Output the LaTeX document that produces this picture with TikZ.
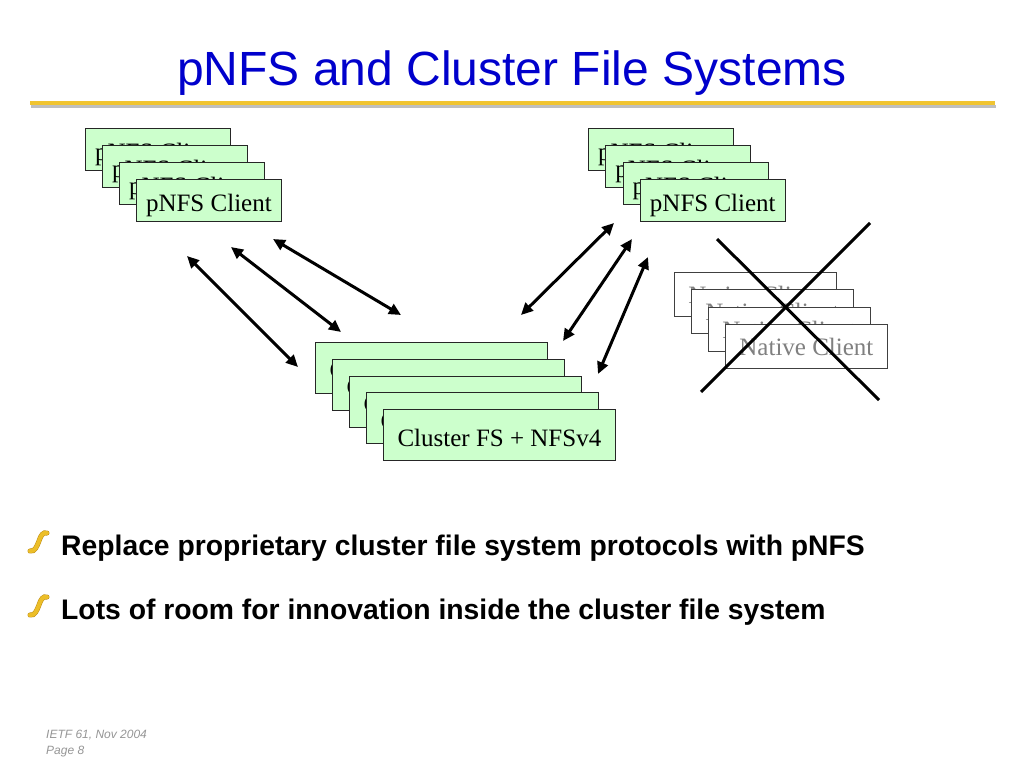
\documentclass[tikz,border=0pt]{standalone}
\usepackage{fontspec}
\setmainfont{Liberation Serif}
\newfontfamily\arial{Liberation Sans}
\usetikzlibrary{arrows.meta}
\definecolor{titleblue}{RGB}{0,0,204}
\definecolor{boxgreen}{RGB}{204,255,204}
\definecolor{rulegold}{RGB}{240,196,48}
\definecolor{bulgold}{RGB}{236,190,40}
\definecolor{bulgolddark}{RGB}{190,140,20}
\definecolor{footgray}{RGB}{150,150,150}
\definecolor{nativegray}{RGB}{128,128,128}
\begin{document}
\begin{tikzpicture}[x=1pt,y=-1pt,
  clientbox/.style={draw=black!85, fill=boxgreen, minimum width=145pt, minimum height=42pt,
    inner sep=0pt, text height=27pt, text depth=5pt, font=\fontsize{25}{25}\selectfont, line width=0.8pt, anchor=north west},
  clusterbox/.style={draw=black!85, fill=boxgreen, minimum width=232pt, minimum height=51pt,
    inner sep=0pt, text height=27pt, text depth=5pt, font=\fontsize{25}{25}\selectfont, line width=0.8pt, anchor=north west},
  nativebox/.style={draw=black!75, fill=white, minimum width=162pt, minimum height=44pt,
    inner sep=0pt, text height=23pt, text depth=5pt, font=\fontsize{25}{25}\selectfont, text=nativegray, line width=0.8pt, anchor=north west},
  dblarrow/.style={line width=3pt, {Triangle[length=12pt,width=11pt]}-{Triangle[length=12pt,width=11pt]}},
  crossline/.style={line width=3pt},
  bullettext/.style={anchor=base west, inner sep=0pt, font=\arial\bfseries\fontsize{28.3}{28.3}\selectfont},
  foottext/.style={anchor=base west, inner sep=0pt, text=footgray, font=\arial\itshape\fontsize{12}{12}\selectfont},
  bulleticon/.style={line width=4pt, line cap=round, draw=bulgold}
]
\useasboundingbox[fill=white] (0,0) rectangle (1024,768);

% title and rule
\node[anchor=base, inner sep=0pt, text=titleblue, font=\arial\fontsize{48}{48}\selectfont] (title) at (512,85) {pNFS and Cluster File Systems};
\draw[line width=3pt, black!25] (31,106.5) -- (996,106.5);
\draw[line width=4pt, rulegold] (30,103) -- (995,103);

% left client stack
\foreach \i in {0,...,3}
  \node[clientbox] (lc\i) at ({85+17*\i},{128+17*\i}) {pNFS Client};
% right client stack
\foreach \i in {0,...,3}
  \node[clientbox] (rc\i) at ({588+17.3*\i},{128+17*\i}) {pNFS Client};
% cluster stack
\foreach \i in {0,...,4}
  \node[clusterbox] (cs\i) at ({315+17*\i},{342+16.8*\i}) {Cluster FS + NFSv4};
% native client stack
\foreach \i in {0,...,3}
  \node[nativebox] (nc\i) at ({674+17*\i},{272+17.3*\i}) {Native Client};

% arrows
\coordinate (a1s) at (187,256); \coordinate (a1e) at (298,367);
\coordinate (a2s) at (231,247); \coordinate (a2e) at (341,332);
\coordinate (a3s) at (273,239); \coordinate (a3e) at (401,315);
\coordinate (a4s) at (614,223); \coordinate (a4e) at (521,315);
\coordinate (a5s) at (632,239); \coordinate (a5e) at (563,341);
\coordinate (a6s) at (648,257); \coordinate (a6e) at (598,374);
\draw[dblarrow] (a1s) -- (a1e);
\draw[dblarrow] (a2s) -- (a2e);
\draw[dblarrow] (a3s) -- (a3e);
\draw[dblarrow] (a4s) -- (a4e);
\draw[dblarrow] (a5s) -- (a5e);
\draw[dblarrow] (a6s) -- (a6e);

% cross
\coordinate (x1s) at (717,239); \coordinate (x1e) at (879,400);
\coordinate (x2s) at (870,223); \coordinate (x2e) at (701,392);
\draw[crossline] (x1s) -- (x1e);
\draw[crossline] (x2s) -- (x2e);

% bullets
\foreach \yy in {0,64}{
  \draw[line width=5pt, line cap=round, bulgolddark]
    (30,{551+\yy}) .. controls (35,{552+\yy}) and (37,{546+\yy}) .. (39,{541+\yy})
    .. controls (41,{535+\yy}) and (43,{532+\yy}) .. (47,{533+\yy});
  \draw[bulleticon]
    (30,{551+\yy}) .. controls (35,{552+\yy}) and (37,{546+\yy}) .. (39,{541+\yy})
    .. controls (41,{535+\yy}) and (43,{532+\yy}) .. (47,{533+\yy});
}
\node[bullettext] (b1) at (61,555) {Replace proprietary cluster file system protocols with pNFS};
\node[bullettext] (b2) at (61,619) {Lots of room for innovation inside the cluster file system};

% footer
\node[foottext] (f1) at (46,738) {IETF 61, Nov 2004};
\node[foottext] (f2) at (46,754) {Page 8};
\end{tikzpicture}
\end{document}
